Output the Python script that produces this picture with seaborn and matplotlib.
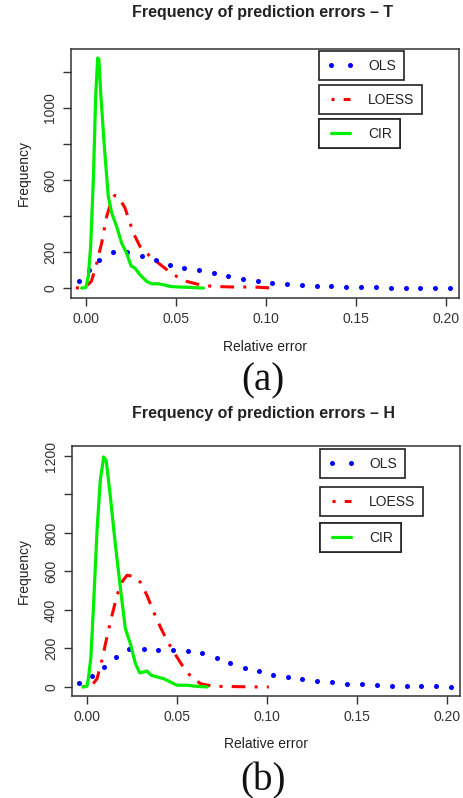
import numpy as np
import pandas as pd
import seaborn as sns
import matplotlib.pyplot as plt
from matplotlib.lines import Line2D

# ---- panel (a): T ----
olsT_x = [-0.0039, 0.0019, 0.0074, 0.0148, 0.0228, 0.0309, 0.0389, 0.0467, 0.0546, 0.0628,
          0.0709, 0.0789, 0.0870, 0.0952, 0.1033, 0.1115, 0.1198, 0.1280, 0.1361, 0.1444,
          0.1526, 0.1607, 0.1690, 0.1774, 0.1856, 0.1939, 0.2022]
olsT_y = [37, 98, 157, 200, 198, 178, 157, 131, 109, 98,
          83, 65, 48, 37, 31, 24, 19, 13, 9, 6,
          4, 4, 2, 2, 2, 0, 0]
loessT_x = [-0.0056, 0.0, 0.003, 0.006, 0.0087, 0.0115, 0.0143, 0.016, 0.0185, 0.0217,
            0.0263, 0.030, 0.0356, 0.043, 0.0485, 0.056, 0.0633, 0.0707, 0.0819, 0.093,
            0.1004, 0.103]
loessT_y = [0, 9, 37, 139, 250, 398, 491, 515, 500, 444,
            306, 231, 176, 117, 74, 37, 18, 9, 6, 6,
            2, 0]
cirT_x = [-0.0024, 0.0, 0.0013, 0.0026, 0.0041, 0.0054, 0.0065, 0.0072, 0.0083, 0.0102,
          0.0124, 0.0143, 0.017, 0.0198, 0.0226, 0.025, 0.0272, 0.030, 0.0337, 0.0365,
          0.0402, 0.0439, 0.0467, 0.0522, 0.0578, 0.0652]
cirT_y = [0, 4, 65, 231, 602, 1065, 1278, 1269, 1065, 787,
          509, 417, 343, 250, 194, 124, 111, 74, 37, 24,
          24, 17, 9, 6, 4, 0]

# ---- panel (b): H ----
olsH_x = [-0.0043, 0.0028, 0.0096, 0.0159, 0.0231, 0.0315, 0.0394, 0.0476, 0.0559, 0.0641,
          0.0719, 0.0796, 0.0876, 0.0954, 0.1033, 0.1115, 0.1196, 0.1278, 0.1359, 0.1444,
          0.1526, 0.1607, 0.1693, 0.1774, 0.1856, 0.1937, 0.2019]
olsH_y = [23, 57, 104, 154, 196, 199, 190, 190, 187, 177,
          152, 125, 100, 81, 62, 52, 42, 33, 24, 17,
          14, 9, 5, 5, 3, 3, 0]
loessH_x = [-0.0028, 0.0028, 0.0056, 0.0083, 0.0111, 0.0139, 0.0167, 0.0194, 0.0222, 0.0259,
            0.0296, 0.0333, 0.037, 0.0407, 0.0444, 0.0481, 0.0528, 0.0574, 0.063, 0.0704,
            0.0815, 0.0926, 0.1009]
loessH_y = [0, 9, 43, 139, 260, 372, 476, 545, 580, 575,
            545, 476, 390, 312, 242, 182, 113, 57, 17, 3,
            2, 0, 0]
cirH_x = [-0.0022, 0.0, 0.0009, 0.0022, 0.0037, 0.0056, 0.0074, 0.0093, 0.0107, 0.013,
          0.0157, 0.0185, 0.0213, 0.0241, 0.0269, 0.0293, 0.0315, 0.0333, 0.0356, 0.0389,
          0.0426, 0.0463, 0.050, 0.0556, 0.0611, 0.0667]
cirH_y = [0, 3, 52, 156, 433, 814, 1074, 1195, 1177, 987,
          745, 519, 303, 225, 121, 73, 78, 83, 61, 52,
          43, 26, 9, 9, 3, 0]

xTicks = [0.00, 0.05, 0.10, 0.15, 0.20]
xTickLabels = ['0.00', '0.05', '0.10', '0.15', '0.20']
yTicks = [0, 200, 400, 600, 800, 1000, 1200]
yLabelsT = ['0', '200', '', '600', '', '1000', '']
yLabelsH = ['0', '200', '400', '600', '800', '', '1200']

sns.set_theme(style='ticks')
plt.rcParams['font.family'] = ['Liberation Sans', 'DejaVu Sans']
plt.rcParams['text.color'] = '#222222'
plt.rcParams['axes.labelcolor'] = '#222222'
plt.rcParams['xtick.color'] = '#333333'
plt.rcParams['ytick.color'] = '#333333'

W, H = 463, 798
fig = plt.figure(figsize=(W / 100, H / 100), dpi=100)

dotdash = (0, (1, 3, 4.5, 3))

panels = [
    dict(box=(71, 49, 459, 298), ylim=(-55, 1328), title='Frequency of prediction errors \u2013 T',
         title_y=12, tag='(a)', tag_y=381, xl_y=340,
         ols=(olsT_x, olsT_y), loess=(loessT_x, loessT_y), cir=(cirT_x, cirT_y),
         ylabels=yLabelsT, leg=[(319, 51), (319, 85), (319, 119)]),
    dict(box=(72, 446, 460, 696), ylim=(-47, 1252), title='Frequency of prediction errors \u2013 H',
         title_y=413, tag='(b)', tag_y=781, xl_y=737,
         ols=(olsH_x, olsH_y), loess=(loessH_x, loessH_y), cir=(cirH_x, cirH_y),
         ylabels=yLabelsH, leg=[(320, 449), (320, 487), (320, 523)]),
]

for p in panels:
    l, t, r, b = p['box']
    ax = fig.add_axes([l / W, 1 - b / H, (r - l) / W, (b - t) / H])
    ax.set_facecolor('white')

    ols = pd.DataFrame({'x': p['ols'][0], 'y': p['ols'][1]})
    loess = pd.DataFrame({'x': p['loess'][0], 'y': p['loess'][1]})
    cir = pd.DataFrame({'x': p['cir'][0], 'y': p['cir'][1]})

    sns.scatterplot(data=ols, x='x', y='y', ax=ax, color='#0000ff', s=13, linewidth=0, zorder=3)
    sns.lineplot(data=loess, x='x', y='y', ax=ax, color='#ff0000', linewidth=2.2,
                 linestyle=dotdash, sort=False, estimator=None, zorder=2)
    sns.lineplot(data=cir, x='x', y='y', ax=ax, color='#00ee00', linewidth=2.3,
                 sort=False, estimator=None, zorder=4)

    ax.set_xlim(-0.0083, 0.207)
    ax.set_ylim(*p['ylim'])
    ax.set_xticks(xTicks)
    ax.set_xticklabels(xTickLabels, fontsize=10)
    ax.set_yticks(yTicks)
    ax.set_yticklabels(p['ylabels'], fontsize=10, rotation=90, va='center')
    ax.tick_params(axis='both', direction='out', length=6, width=1.0, pad=4)
    for s in ax.spines.values():
        s.set_color('#333333')
        s.set_linewidth(1.1)

    ax.set_xlabel('Relative error', fontsize=10)
    ax.xaxis.set_label_coords(0.5, (b - p['xl_y']) / (b - t))
    ax.set_ylabel('Frequency', fontsize=10)
    ax.yaxis.set_label_coords((31 - l) / (r - l), 0.5)

    fig.text(263 / W, 1 - p['title_y'] / H, p['title'], ha='center', va='center',
             fontsize=11.5, fontweight='bold')
    fig.text(263 / W, 1 - p['tag_y'] / H, p['tag'], ha='center', va='center',
             fontsize=28, family=['Liberation Serif', 'DejaVu Serif'], color='#111111')

    handles = [
        Line2D([], [], color='#0000ff', marker='o', linestyle='none', markersize=3.6,
               markeredgewidth=0),
        Line2D([], [], color='#ff0000', linewidth=2.2, linestyle=(0, (1, 3, 6, 3))),
        Line2D([], [], color='#00ee00', linewidth=2.3),
    ]
    names = ['OLS', 'LOESS', 'CIR']
    for h, n, (lx, ly) in zip(handles, names, p['leg']):
        lg = ax.legend([h], [n], loc='upper left', bbox_to_anchor=(lx / W, 1 - ly / H),
                       bbox_transform=fig.transFigure, borderaxespad=0, fontsize=10,
                       frameon=True, fancybox=False, framealpha=1, edgecolor='#222222',
                       borderpad=0.55, handlelength=2.0, handletextpad=1.0, numpoints=2)
        lg.get_frame().set_linewidth(1.2)
        ax.add_artist(lg)

fig.savefig('out.png', dpi=100)
